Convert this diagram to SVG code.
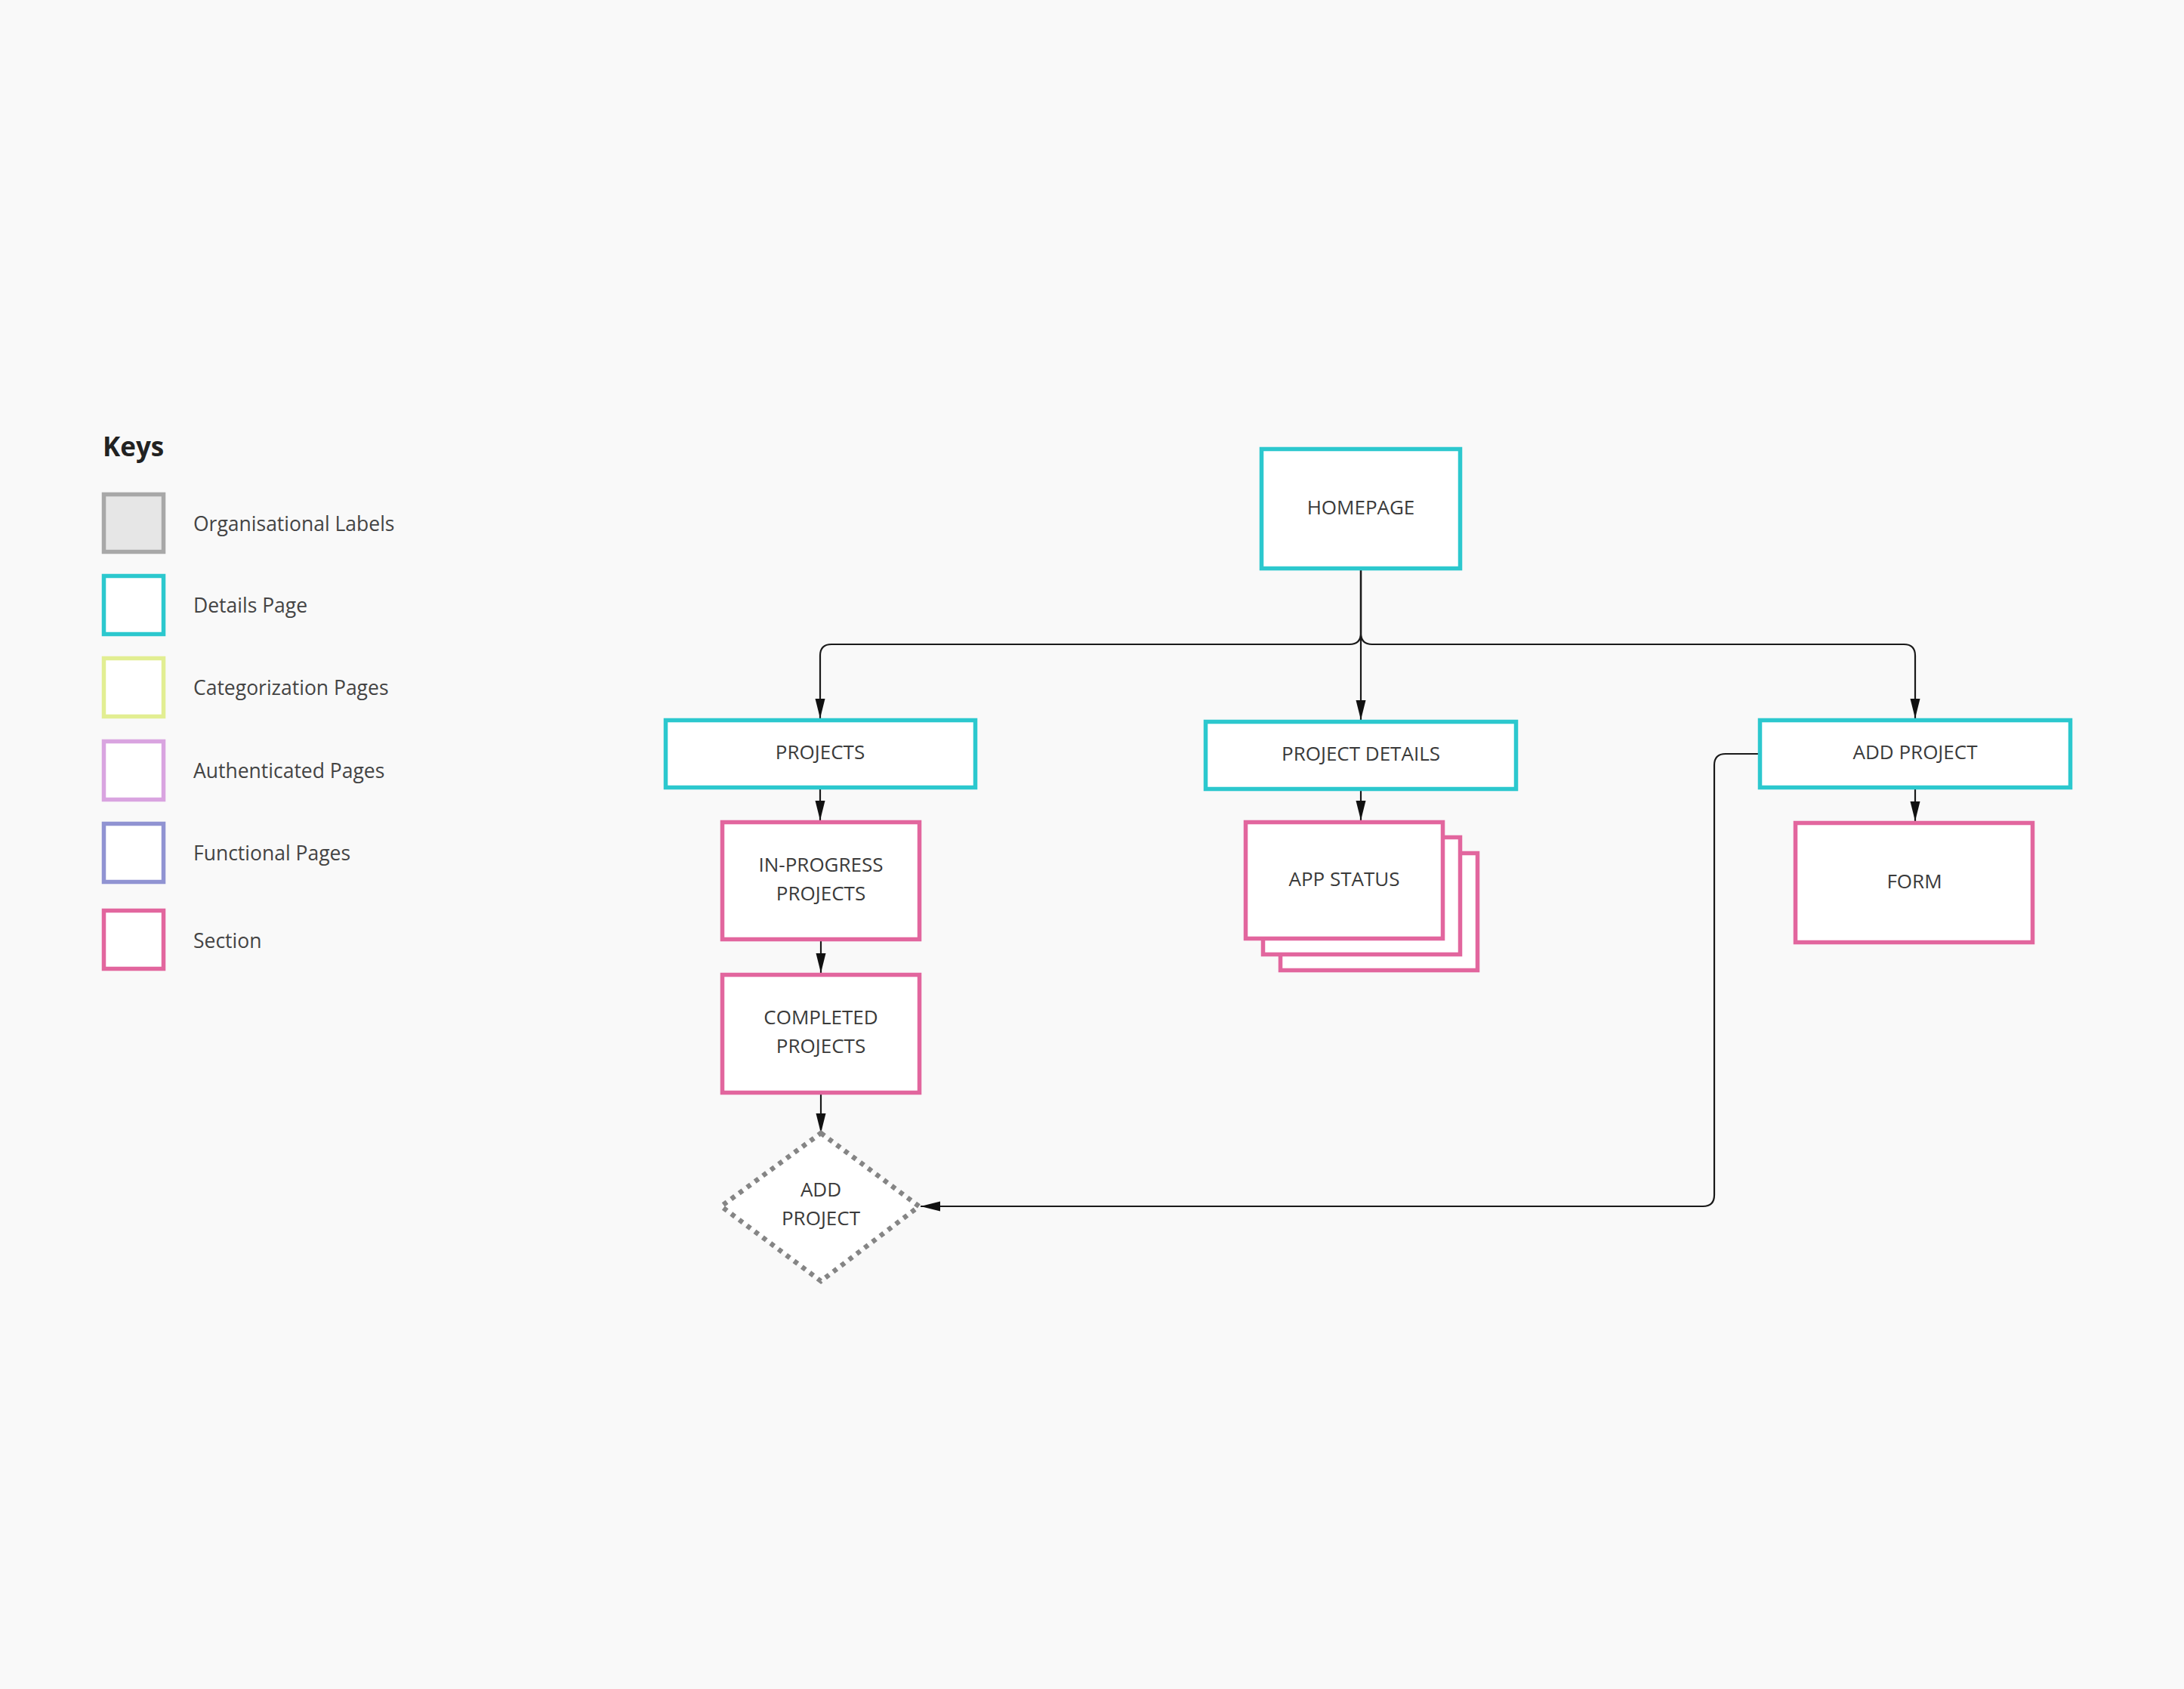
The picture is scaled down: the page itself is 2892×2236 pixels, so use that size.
<svg xmlns="http://www.w3.org/2000/svg" width="2892" height="2236" viewBox="0 0 2892 2236">
<style>
.t{font-family:"Open Sans","Liberation Sans",sans-serif;font-size:26px;fill:#3a3a3a;text-anchor:middle}
.lt{font-family:"Open Sans","Liberation Sans",sans-serif;font-size:26.5px;fill:#444}
.key{font-family:"Open Sans","Liberation Sans",sans-serif;font-size:35px;font-weight:bold;fill:#222}
.cy{fill:#fff;stroke:#2cc8ce;stroke-width:5.5}
.pk{fill:#fff;stroke:#e2669e;stroke-width:5.5}
.c{fill:none;stroke:#1a1a1a;stroke-width:2.2}
</style>
<defs>
<marker id="arr" markerUnits="userSpaceOnUse" markerWidth="27" markerHeight="14" refX="26" refY="7" orient="auto">
<path d="M0,0.5 L26,7 L0,13.5 z" fill="#111"/>
</marker>
</defs>
<rect width="2892" height="2236" fill="#f9f9f9"/>
<g id="legend">
<text class="key" x="136" y="604">Keys</text>
<rect x="137.5" y="654.5" width="79" height="76" fill="#e6e6e6" stroke="#a8a8a8" stroke-width="5.5"/>
<text class="lt" x="256" y="703">Organisational Labels</text>
<rect x="137.5" y="762.5" width="79" height="77" fill="#fff" stroke="#2cc8ce" stroke-width="5.5"/>
<text class="lt" x="256" y="811">Details Page</text>
<rect x="137.5" y="871.5" width="79" height="77" fill="#fff" stroke="#e2ee92" stroke-width="5.5"/>
<text class="lt" x="256" y="920">Categorization Pages</text>
<rect x="137.5" y="981.5" width="79" height="77" fill="#fff" stroke="#d9a4e0" stroke-width="5.5"/>
<text class="lt" x="256" y="1030">Authenticated Pages</text>
<rect x="137.5" y="1090.5" width="79" height="77" fill="#fff" stroke="#9093d2" stroke-width="5.5"/>
<text class="lt" x="256" y="1139">Functional Pages</text>
<rect x="137.5" y="1205.5" width="79" height="77" fill="#fff" stroke="#e2669e" stroke-width="5.5"/>
<text class="lt" x="256" y="1255">Section</text>
</g>
<g id="connectors">
<path class="c" d="M1802 755 V838 Q1802 853 1787 853 H1101 Q1086 853 1086 868 V951" marker-end="url(#arr)"/>
<path class="c" d="M1802 755 V953" marker-end="url(#arr)"/>
<path class="c" d="M1802 755 V838 Q1802 853 1817 853 H2521 Q2536 853 2536 868 V951" marker-end="url(#arr)"/>
<path class="c" d="M1086 1045 V1086" marker-end="url(#arr)"/>
<path class="c" d="M1087 1246 V1288" marker-end="url(#arr)"/>
<path class="c" d="M1087 1449 V1500" marker-end="url(#arr)"/>
<path class="c" d="M1802 1047 V1086" marker-end="url(#arr)"/>
<path class="c" d="M2536 1045 V1087" marker-end="url(#arr)"/>
<path class="c" d="M2328 998 H2285 Q2270 998 2270 1013 V1582 Q2270 1597 2255 1597 H1219" marker-end="url(#arr)"/>
</g>
<g id="homepage">
<rect class="cy" x="1670.5" y="594.5" width="263" height="158"/>
<text class="t" x="1802" y="681">HOMEPAGE</text>
</g>
<g id="projects">
<rect class="cy" x="881.5" y="953.5" width="410" height="89"/>
<text class="t" x="1086" y="1005">PROJECTS</text>
</g>
<g id="project-details">
<rect class="cy" x="1596.5" y="955.5" width="411" height="89"/>
<text class="t" x="1802" y="1007">PROJECT DETAILS</text>
</g>
<g id="add-project">
<rect class="cy" x="2330.5" y="953.5" width="411" height="89"/>
<text class="t" x="2536" y="1005">ADD PROJECT</text>
</g>
<g id="in-progress-projects">
<rect class="pk" x="956.5" y="1088.5" width="261" height="155"/>
<text class="t" x="1087" y="1154">IN-PROGRESS</text>
<text class="t" x="1087" y="1192">PROJECTS</text>
</g>
<g id="completed-projects">
<rect class="pk" x="956.5" y="1290.5" width="261" height="156"/>
<text class="t" x="1087" y="1356">COMPLETED</text>
<text class="t" x="1087" y="1394">PROJECTS</text>
</g>
<g id="app-status">
<rect class="pk" x="1695.5" y="1129.5" width="261" height="155"/>
<rect class="pk" x="1672.5" y="1108.5" width="261" height="155"/>
<rect class="pk" x="1649.5" y="1088.5" width="261" height="154"/>
<text class="t" x="1780" y="1173">APP STATUS</text>
</g>
<g id="form">
<rect class="pk" x="2377.5" y="1089.5" width="314" height="158"/>
<text class="t" x="2535" y="1176">FORM</text>
</g>
<g id="add-project-diamond">
<polygon points="1087,1500 1217,1597 1087,1696 955,1597" fill="#fff" stroke="#858585" stroke-width="6.5" stroke-dasharray="6 7"/>
<text class="t" x="1087" y="1584">ADD</text>
<text class="t" x="1087" y="1622">PROJECT</text>
</g>
</svg>
